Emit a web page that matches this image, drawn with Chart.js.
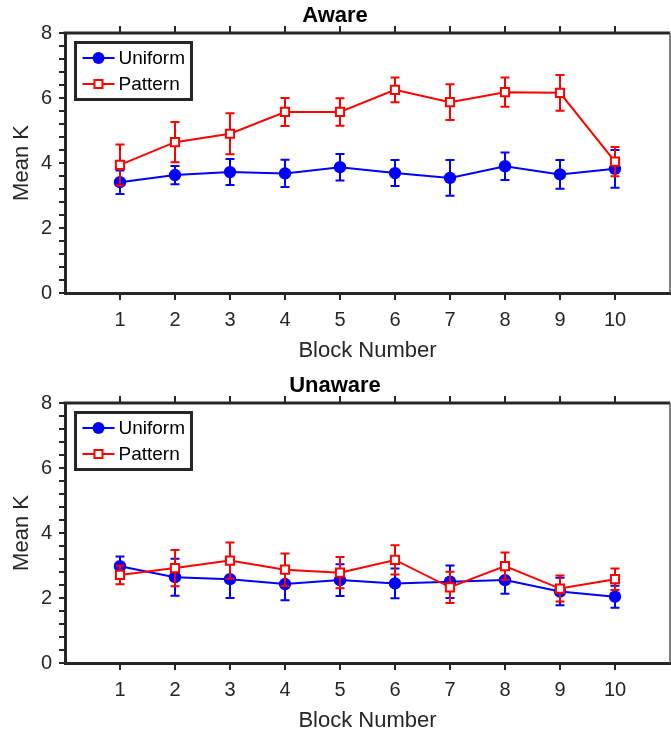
<!DOCTYPE html>
<html>
<head>
<meta charset="utf-8">
<script src="https://cdn.jsdelivr.net/npm/chart.js@4/dist/chart.umd.min.js"></script>
<style>
    body { margin: 0; background: #fff; width: 671px; height: 731px; overflow: hidden; position: relative; }
    canvas { position: absolute; left: 0; }
    #aware { top: 0; }
    #unaware { top: 370px; }
</style>
</head>
<body>
<canvas id="aware" width="671" height="366"></canvas>
<canvas id="unaware" width="671" height="366"></canvas>
<script>
// Block numbers on the x axis
const blocks = [1, 2, 3, 4, 5, 6, 7, 8, 9, 10];
const seriesNames = ['Uniform', 'Pattern'];

// Aware group: means and error bar half-lengths
const awareUniform = [3.41, 3.63, 3.72, 3.68, 3.87, 3.69, 3.54, 3.90, 3.65, 3.82];
const awareUniformErr = [0.36, 0.28, 0.40, 0.42, 0.41, 0.40, 0.55, 0.42, 0.44, 0.58];
const awarePattern = [3.94, 4.64, 4.90, 5.57, 5.57, 6.25, 5.87, 6.18, 6.16, 4.04];
const awarePatternErr = [0.63, 0.62, 0.63, 0.43, 0.42, 0.38, 0.55, 0.45, 0.55, 0.45];

// Unaware group
const unawareUniform = [2.98, 2.64, 2.58, 2.43, 2.55, 2.45, 2.50, 2.55, 2.20, 2.04];
const unawareUniformErr = [0.30, 0.57, 0.58, 0.50, 0.49, 0.46, 0.50, 0.42, 0.42, 0.34];
const unawarePattern = [2.71, 2.92, 3.15, 2.87, 2.78, 3.17, 2.33, 2.98, 2.29, 2.58];
const unawarePatternErr = [0.29, 0.56, 0.56, 0.50, 0.48, 0.45, 0.48, 0.42, 0.40, 0.33];

// y axis: labelled every 2, minor ticks every 0.4
const yMajorTicks = [0, 2, 4, 6, 8];
const yMinorStep = 0.4;

const frameColor = '#262626';
const fontFamily = '"Liberation Sans", Arial, Helvetica, sans-serif';

// Draw the error bars just before each dataset's line and markers
const errorBarsPlugin = {
    id: 'errorBars',
    beforeDatasetDraw(chart, args) {
        const ds = chart.data.datasets[args.index];
        if (!ds.errors) return;
        const xs = chart.scales.x;
        const ys = chart.scales.y;
        const ctx = chart.ctx;
        const cap = 4.5;
        ctx.save();
        ctx.strokeStyle = ds.borderColor;
        ctx.lineWidth = 2;
        ds.data.forEach((pt, i) => {
            const e = ds.errors[i];
            const px = xs.getPixelForValue(pt.x);
            const top = ys.getPixelForValue(pt.y + e);
            const bot = ys.getPixelForValue(pt.y - e);
            ctx.beginPath();
            ctx.moveTo(px, top); ctx.lineTo(px, bot);
            ctx.moveTo(px - cap, top); ctx.lineTo(px + cap, top);
            ctx.moveTo(px - cap, bot); ctx.lineTo(px + cap, bot);
            ctx.stroke();
        });
        ctx.restore();
    }
};

// Box round the axes, top ticks and the boxed legend
const framePlugin = {
    id: 'frame',
    afterDraw(chart) {
        const ctx = chart.ctx;
        const a = chart.chartArea;
        const xs = chart.scales.x;
        ctx.save();

        // top border and outward ticks
        ctx.strokeStyle = frameColor;
        ctx.lineWidth = 3;
        ctx.beginPath();
        ctx.moveTo(a.left - 1.5, a.top);
        ctx.lineTo(a.right, a.top);
        ctx.stroke();
        ctx.lineWidth = 2;
        blocks.forEach(v => {
            const px = xs.getPixelForValue(v);
            ctx.beginPath();
            ctx.moveTo(px, a.top);
            ctx.lineTo(px, a.top - 7);
            ctx.stroke();
        });

        // right border
        ctx.strokeStyle = '#555';
        ctx.lineWidth = 1.5;
        ctx.beginPath();
        ctx.moveTo(a.right, a.top);
        ctx.lineTo(a.right, a.bottom);
        ctx.stroke();

        // legend
        const bx = a.left + 10.5, by = a.top + 9.5, bw = 116, bh = 57;
        ctx.fillStyle = '#fff';
        ctx.fillRect(bx, by, bw, bh);
        ctx.strokeStyle = frameColor;
        ctx.lineWidth = 3;
        ctx.strokeRect(bx, by, bw, bh);

        ctx.font = '19px ' + fontFamily;
        ctx.textBaseline = 'middle';
        ctx.textAlign = 'left';
        chart.data.datasets.forEach((ds, i) => {
            const ly = by + 15.5 + i * 26;
            const mx = bx + 23;
            ctx.strokeStyle = ds.borderColor;
            ctx.lineWidth = 2;
            ctx.beginPath();
            ctx.moveTo(bx + 7, ly);
            ctx.lineTo(bx + 39, ly);
            ctx.stroke();
            if (ds.pointStyle === 'circle') {
                ctx.fillStyle = ds.borderColor;
                ctx.beginPath();
                ctx.arc(mx, ly, 6, 0, Math.PI * 2);
                ctx.fill();
            } else {
                ctx.fillStyle = '#fff';
                ctx.fillRect(mx - 4, ly - 4, 8, 8);
                ctx.strokeRect(mx - 4, ly - 4, 8, 8);
            }
            ctx.fillStyle = '#000';
            ctx.fillText(ds.label, bx + 43, ly + 1);
        });
        ctx.restore();
    }
};

function toPoints(values) {
    return values.map((v, i) => ({ x: blocks[i], y: v }));
}

function makeChart(canvasId, title, uniform, uniformErr, pattern, patternErr) {
    const ctx = document.getElementById(canvasId).getContext('2d');
    new Chart(ctx, {
        type: 'line',
        data: {
            datasets: [
                {
                    label: seriesNames[0],
                    data: toPoints(uniform),
                    errors: uniformErr,
                    borderColor: '#0000ff',
                    backgroundColor: '#0000ff',
                    borderWidth: 2,
                    pointStyle: 'circle',
                    pointRadius: 6.2,
                    pointBorderWidth: 0,
                    order: 1
                },
                {
                    label: seriesNames[1],
                    data: toPoints(pattern),
                    errors: patternErr,
                    borderColor: '#ff0000',
                    backgroundColor: '#ffffff',
                    pointBackgroundColor: '#ffffff',
                    borderWidth: 2,
                    pointStyle: 'rect',
                    pointRadius: 5.8,
                    pointBorderWidth: 2,
                    order: 0
                }
            ]
        },
        options: {
            responsive: false,
            animation: false,
            layout: { autoPadding: false, padding: { left: 0, right: 1, top: 0, bottom: 0 } },
            plugins: {
                legend: { display: false },
                tooltip: { enabled: false },
                title: {
                    display: true,
                    text: title,
                    color: '#000',
                    font: { family: fontFamily, size: 22, weight: 'bold' },
                    padding: { top: 3, bottom: 3.6 }
                }
            },
            scales: {
                x: {
                    type: 'linear',
                    min: 0,
                    max: 11,
                    afterBuildTicks: s => { s.ticks = blocks.map(v => ({ value: v })); },
                    afterFit: s => { s.height = 73; s.paddingLeft = 0; s.paddingRight = 0; },
                    ticks: {
                        autoSkip: false,
                        maxRotation: 0,
                        padding: 8,
                        color: frameColor,
                        font: { family: fontFamily, size: 20 },
                        callback: v => String(v)
                    },
                    grid: { drawOnChartArea: false, tickLength: 7, color: frameColor, lineWidth: 2 },
                    border: { color: frameColor, width: 3 },
                    title: {
                        display: true,
                        text: 'Block Number',
                        color: frameColor,
                        font: { family: fontFamily, size: 22 },
                        padding: { top: 0, bottom: 2 }
                    }
                },
                y: {
                    type: 'linear',
                    min: 0,
                    max: 8,
                    afterBuildTicks: s => {
                        const ticks = [];
                        for (let i = 0; i <= 20; i++) ticks.push({ value: Math.round(i * yMinorStep * 10) / 10 });
                        s.ticks = ticks;
                    },
                    afterFit: s => { s.width = 65; s.paddingTop = 0; s.paddingBottom = 0; },
                    ticks: {
                        autoSkip: false,
                        padding: 7,
                        color: frameColor,
                        font: { family: fontFamily, size: 20 },
                        callback: v => yMajorTicks.includes(v) ? String(v) : ''
                    },
                    grid: { drawOnChartArea: false, tickLength: 6, color: frameColor, lineWidth: 2 },
                    border: { color: frameColor, width: 3 },
                    title: {
                        display: true,
                        text: 'Mean K',
                        color: frameColor,
                        font: { family: fontFamily, size: 22 },
                        padding: { top: 9, bottom: 0 }
                    }
                }
            }
        },
        plugins: [errorBarsPlugin, framePlugin]
    });
}

makeChart('aware', 'Aware', awareUniform, awareUniformErr, awarePattern, awarePatternErr);
makeChart('unaware', 'Unaware', unawareUniform, unawareUniformErr, unawarePattern, unawarePatternErr);
</script>
</body>
</html>
